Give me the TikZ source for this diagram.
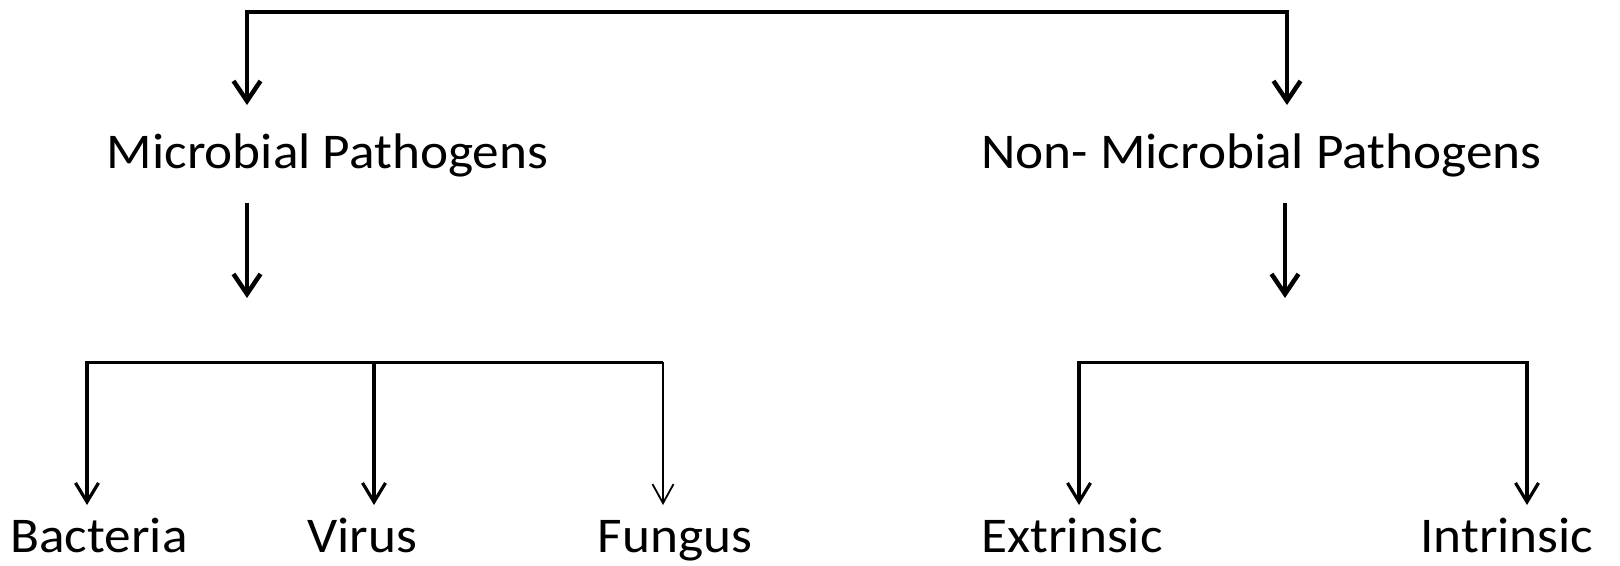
\documentclass[tikz,border=0pt]{standalone}
\usepackage{fontspec}
\setmainfont[FakeStretch=1.065]{Carlito}
\usetikzlibrary{arrows.meta}
\begin{document}
\begin{tikzpicture}[x=1pt,y=-1pt,
  label/.style={inner sep=0pt,anchor=base,font=\fontsize{50}{60}\selectfont},
  bigarrow/.style={line width=4.5pt,line join=miter,
    -{Straight Barb[length=20pt,width=27pt,line width=4.5pt]}},
  midarrow/.style={line width=3.5pt,line join=miter,
    -{Straight Barb[length=19pt,width=23pt,line width=3.2pt]}},
  thinarrow/.style={line width=2pt,line join=miter,
    -{Straight Barb[length=19pt,width=21pt,line width=1.8pt]}},
  barline/.style={line width=3.5pt}]
\useasboundingbox (0,0) rectangle (1620,565);

% category labels
\node[label] (mp)  at (327.5,168) {Microbial Pathogens};
\node[label] (nmp) at (1261.5,168) {Non- Microbial Pathogens};

% leaf labels
\node[label] (bac) at (99,552.7)  {Bacteria};
\node[label] (vir) at (362.5,552.7) {Virus};
\node[label] (fun) at (675,552.7) {Fungus};
\node[label] (ext) at (1072,552.7) {Extrinsic};
\node[label] (int) at (1507,552.7) {Intrinsic};

% arrow end points
\coordinate (top)    at (766,12);
\coordinate (mpIn)   at (247,105);
\coordinate (nmpIn)  at (1287,105);
\coordinate (mpOut)  at (247,203);
\coordinate (mpDn)   at (247,298);
\coordinate (nmpOut) at (1285,203);
\coordinate (nmpDn)  at (1285,298);
\coordinate (lbar)   at (374,362.7);
\coordinate (rbar)   at (1303,362.7);
\coordinate (bacIn)  at (87,505);
\coordinate (virIn)  at (374,505);
\coordinate (funIn)  at (663,505);
\coordinate (extIn)  at (1079,505);
\coordinate (intIn)  at (1527,505);

% top split
\draw[bigarrow] (top) -| (mpIn);
\draw[bigarrow] (top) -| (nmpIn);

% downward arrows below the categories
\draw[bigarrow] (mpOut) -- (mpDn);
\draw[bigarrow] (nmpOut) -- (nmpDn);

% microbial branches
\draw[barline] (87,362.7) -- (663,362.7);
\draw[midarrow] (lbar) -| (bacIn);
\draw[midarrow] (lbar) -- (virIn);
\draw[thinarrow] (lbar) -| (funIn);

% non-microbial branches
\draw[midarrow] (rbar) -| (extIn);
\draw[midarrow] (rbar) -| (intIn);
\end{tikzpicture}
\end{document}
